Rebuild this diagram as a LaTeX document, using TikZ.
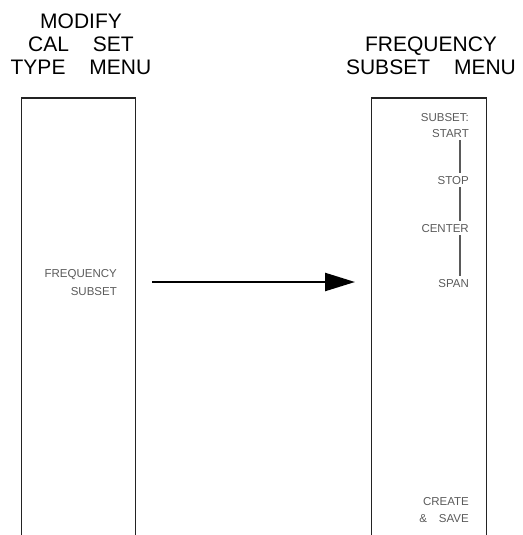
\documentclass[tikz,border=0pt]{standalone}
\usepackage{fontspec}
\setmainfont{Liberation Sans}
\usetikzlibrary{arrows.meta,positioning}
\definecolor{keygray}{RGB}{90,90,90}
\definecolor{edgegray}{RGB}{35,35,35}
\newcommand{\wgap}{\hspace{24pt}}

\begin{document}
\begin{tikzpicture}[x=1pt,y=-1pt,
  title/.style={font=\fontsize{21}{23}\selectfont,inner sep=0pt,anchor=base},
  softkey/.style={font=\fontsize{11.5}{17}\selectfont,text=keygray,
                  inner xsep=0pt,inner ysep=3pt,anchor=base east},
  menubox/.style={rectangle,minimum width=114pt,minimum height=450pt,
                  inner sep=0pt,anchor=north},
  frame/.style={draw=edgegray,line width=1.2pt},
  link/.style={draw=keygray,line width=1.3pt},
  arrow/.style={-{Triangle[length=30pt,width=18pt]},line width=2.4pt}]
\useasboundingbox (0,0) rectangle (522,535);
\node[title] (mod)  at (81,28.5) {MODIFY};
\node[title] (cal)  at (81,52)   {CAL\wgap SET};
\node[title] (type) at (81,74.5) {TYPE\wgap MENU};
\node[title] (freqt) at (431,52)   {FREQUENCY};
\node[title] (subt)  at (431,74.5) {SUBSET\wgap MENU};
\node[menubox] (lbox) at (78.5,98) {};
\node[menubox] (rbox) at (429,98)  {};
\draw[frame] (lbox.south west) |- (lbox.north east) -- (lbox.south east);
\draw[frame] (rbox.south west) |- (rbox.north east) -- (rbox.south east);
\node[softkey] (fr)     at (117,277) {FREQUENCY};
\node[softkey] (fs)     at (117,295) {SUBSET};
\node[softkey] (sub)    at (469,121) {SUBSET:};
\node[softkey] (start)  at (469,137) {START};
\node[softkey] (stop)   at (469,184) {STOP};
\node[softkey] (center) at (469,232) {CENTER};
\node[softkey] (span)   at (469,287) {SPAN};
\node[softkey] (create) at (469,505) {CREATE};
\node[softkey] (save)   at (469,522) {\&\hspace{12pt}SAVE};
\draw[link] ([xshift=-9pt]start.south east)  -- ([xshift=-9pt]stop.north east);
\draw[link] ([xshift=-9pt]stop.south east)   -- ([xshift=-9pt]center.north east);
\draw[link] ([xshift=-9pt]center.south east) -- ([xshift=-9pt]span.north east);
\coordinate (atail) at (152,282);
\coordinate (ahead) at (355,282);
\draw[arrow] (atail) -- (ahead);
\end{tikzpicture}
\end{document}
